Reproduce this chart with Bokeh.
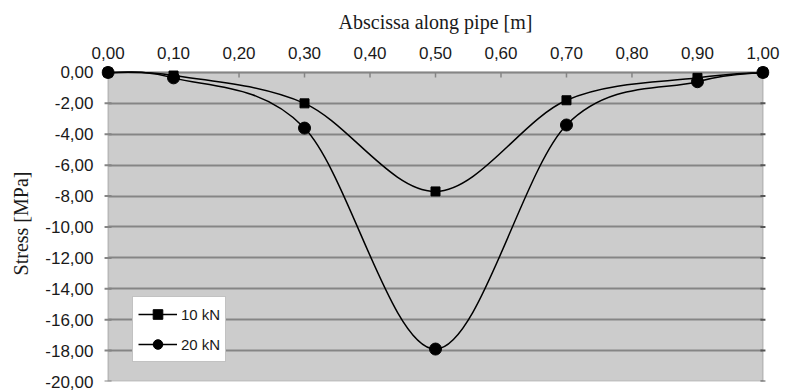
import numpy as np
from bokeh.plotting import figure
from bokeh.models import Range1d, FixedTicker, BoxAnnotation, Legend, LegendItem
from bokeh.embed import file_html
from bokeh.resources import INLINE

# ---- data ----
x_pos = [0.0, 0.1, 0.3, 0.5, 0.7, 0.9, 1.0]
stress_10kN = [0.0, -0.2, -2.0, -7.7, -1.8, -0.35, 0.0]
stress_20kN = [0.0, -0.35, -3.6, -17.9, -3.4, -0.6, 0.0]
series_labels = ["10 kN", "20 kN"]
x_ticks = [0.0, 0.1, 0.2, 0.3, 0.4, 0.5, 0.6, 0.7, 0.8, 0.9, 1.0]
y_ticks = [0, -2, -4, -6, -8, -10, -12, -14, -16, -18, -20]

def fmt(v):
    return ("%.2f" % v).replace(".", ",")

TICK_FONT = "Liberation Sans"
TITLE_FONT = "Liberation Serif"
TXT = "#1a1a1a"
AX = "#858585"

p = figure(width=785, height=391, output_backend="svg", toolbar_location=None,
           x_axis_location="above",
           x_range=Range1d(-0.01, 1.01), y_range=Range1d(-20, 0.45),
           min_border_left=101, min_border_right=16, min_border_top=65, min_border_bottom=10)
p.background_fill_color = "white"
p.border_fill_color = "white"
p.outline_line_color = None

# gray plot area with border
p.add_layout(BoxAnnotation(left=0, right=1, top=0, bottom=-20, fill_color="#cccccc",
                           fill_alpha=1.0, line_color=AX, line_width=2, level="image"))

# grid
p.xgrid.visible = False
p.ygrid.ticker = FixedTicker(ticks=y_ticks)
p.ygrid.grid_line_color = AX
p.ygrid.grid_line_width = 2
try:
    p.ygrid.cross_bounds = (0, 1)
except Exception:
    pass

# x axis (top)
xa = p.xaxis[0]
xa.ticker = FixedTicker(ticks=x_ticks)
xa.major_label_overrides = {t: fmt(t) for t in x_ticks}
xa.axis_label = "Abscissa along pipe [m]"
xa.axis_label_text_font = TITLE_FONT
xa.axis_label_text_font_style = "normal"
xa.axis_label_text_font_size = "20px"
xa.axis_label_text_color = TXT
xa.axis_label_standoff = 11
xa.major_label_text_font = TICK_FONT
xa.major_label_text_font_size = "17px"
xa.major_label_text_color = TXT
xa.major_label_standoff = 1
xa.axis_line_color = None
xa.major_tick_line_color = None
xa.minor_tick_line_color = None

# y axis (left)
ya = p.yaxis[0]
ya.ticker = FixedTicker(ticks=y_ticks)
ya.major_label_overrides = {t: fmt(t) for t in y_ticks}
ya.axis_label = "Stress [MPa]"
ya.axis_label_text_font = TITLE_FONT
ya.axis_label_text_font_style = "normal"
ya.axis_label_text_font_size = "20px"
ya.axis_label_text_color = TXT
ya.axis_label_standoff = 10
ya.major_label_text_font = TICK_FONT
ya.major_label_text_font_size = "17px"
ya.major_label_text_color = TXT
ya.major_label_standoff = 2
ya.axis_line_color = None
ya.major_tick_line_color = None
ya.minor_tick_line_color = None

# tick marks on the plot-area border
p.ray(x=x_ticks, y=[0] * len(x_ticks), length=5, angle=-np.pi / 2,
      length_units="screen", line_color=AX, line_width=1.5)
p.scatter(x=[0] * len(y_ticks), y=y_ticks, marker="dash", size=7,
          line_color=AX, line_width=2)
p.scatter(x=[1] * len(y_ticks), y=y_ticks, marker="dash", size=5,
          line_color="#555555", line_width=2)

# smoothed curves (Catmull-Rom -> cubic Bezier)
def bezier_segments(xs, ys):
    P = np.column_stack([xs, ys]).astype(float)
    n = len(P)
    Pm = np.vstack([P[0], P, P[-1]])
    x0, y0, x1, y1, cx0, cy0, cx1, cy1 = ([] for _ in range(8))
    for i in range(n - 1):
        p0, p1, p2, p3 = Pm[i], Pm[i + 1], Pm[i + 2], Pm[i + 3]
        c0 = p1 + (p2 - p0) / 6.0
        c1 = p2 - (p3 - p1) / 6.0
        x0.append(p1[0]); y0.append(p1[1]); x1.append(p2[0]); y1.append(p2[1])
        cx0.append(c0[0]); cy0.append(c0[1]); cx1.append(c1[0]); cy1.append(c1[1])
    return dict(x0=x0, y0=y0, x1=x1, y1=y1, cx0=cx0, cy0=cy0, cx1=cx1, cy1=cy1)

items = []
for ys, marker, size, lab in [(stress_10kN, "square", 9, series_labels[0]),
                              (stress_20kN, "circle", 12, series_labels[1])]:
    b = bezier_segments(x_pos, ys)
    p.bezier(line_color="black", line_width=1.5, **b)
    leg_line = p.line(x=[np.nan], y=[np.nan], line_color="black", line_width=1.5)
    sc = p.scatter(x=x_pos, y=ys, marker=marker, size=size, fill_color="black",
                   line_color="black")
    items.append(LegendItem(label=lab, renderers=[leg_line, sc]))

legend = Legend(items=items, location=(31, 19))
legend.label_text_font = TICK_FONT
legend.label_text_font_size = "15px"
legend.label_text_color = TXT
legend.glyph_width = 39
legend.glyph_height = 24
legend.label_height = 24
legend.label_standoff = 4
legend.spacing = 6
legend.padding = 5
legend.margin = 0
legend.border_line_color = AX
legend.border_line_width = 1
legend.background_fill_color = "white"
legend.background_fill_alpha = 1.0
p.add_layout(legend, "center")

open("out.html", "w").write(file_html(p, INLINE))
